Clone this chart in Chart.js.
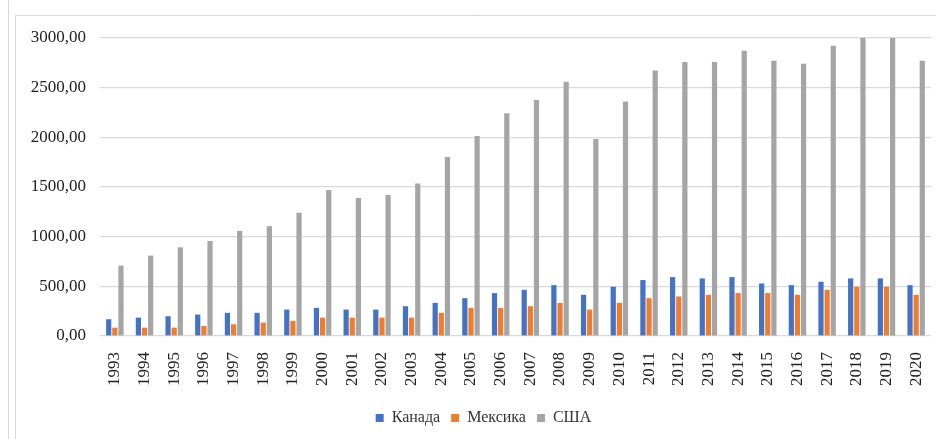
<!DOCTYPE html>
<html>
<head>
<meta charset="utf-8">
<script src="https://cdn.jsdelivr.net/npm/chart.js@4/dist/chart.umd.min.js"></script>
<style>
html,body{margin:0;padding:0;background:#fff;}
#wrap{width:936px;height:439px;position:relative;}
</style>
</head>
<body>
<div id="wrap"><canvas id="c" width="936" height="439"></canvas></div>
<script>
const years = ['1993','1994','1995','1996','1997','1998','1999','2000','2001','2002','2003','2004','2005','2006','2007','2008','2009','2010','2011','2012','2013','2014','2015','2016','2017','2018','2019','2020'];
const canada = [169,185,199,216,233,233,266,283,266,266,300,334,381,432,465,512,415,496,563,593,580,593,529,512,546,580,580,512];
const mexico = [84,84,84,101,118,135,152,185,185,185,185,233,283,283,300,334,266,334,381,398,415,432,432,415,465,496,496,415];
const usa = [708,809,893,957,1059,1106,1241,1470,1389,1420,1534,1801,2013,2242,2377,2559,1983,2360,2674,2758,2758,2872,2771,2741,2923,3000,3000,2771];
const seriesNames = ['Канада','Мексика','США'];
const yTicks = [0,500,1000,1500,2000,2500,3000];

const FONT = "'Liberation Serif','Times New Roman',serif";

const framePlugin = {
  id:'frame',
  afterLayout(chart){
    if (chart.legend) { chart.legend.left += 18; chart.legend.right += 18; }
  },
  beforeDraw(chart){
    const ctx = chart.ctx;
    ctx.save();
    ctx.fillStyle='#fff';
    ctx.fillRect(0,0,chart.width,chart.height);
    ctx.strokeStyle='#d9d9d9';
    ctx.lineWidth=1;
    ctx.beginPath();
    ctx.moveTo(8.5,0); ctx.lineTo(8.5,chart.height);
    ctx.moveTo(15.5,chart.height); ctx.lineTo(15.5,15.5); ctx.lineTo(chart.width,15.5);
    ctx.stroke();
    ctx.restore();
  }
};

new Chart(document.getElementById('c'), {
  type:'bar',
  data:{
    labels:years,
    datasets:[
      {label:seriesNames[0], data:canada, backgroundColor:'#4472C4'},
      {label:seriesNames[1], data:mexico, backgroundColor:'#ED7D31'},
      {label:seriesNames[2], data:usa, backgroundColor:'#A5A5A5'}
    ]
  },
  options:{
    responsive:false,
    animation:false,
    devicePixelRatio:1,
    layout:{padding:{left:0,right:5,top:38,bottom:3}},
    datasets:{bar:{categoryPercentage:0.62,barPercentage:0.85}},
    plugins:{
      legend:{
        position:'bottom',
        labels:{
          font:{family:FONT,size:16},
          color:'#333',
          boxWidth:8,boxHeight:8,
          padding:11
        }
      },
      tooltip:{enabled:false}
    },
    scales:{
      x:{
        grid:{display:false,drawTicks:false},
        border:{display:false},
        ticks:{
          font:{family:FONT,size:17},
          color:'#222',
          minRotation:90,maxRotation:90,
          autoSkip:false,
          padding:16
        },
        afterFit(s){ s.height = 63; s.paddingRight = 0; s.paddingLeft = 0; }
      },
      y:{
        min:0,max:3000,
        afterBuildTicks(s){ s.ticks = yTicks.map(v=>({value:v})); },
        grid:{color:'#d9d9d9',lineWidth:1.2,drawTicks:false},
        border:{display:false},
        ticks:{
          font:{family:FONT,size:17},
          color:'#222',
          padding:14,
          callback:v=>v.toFixed(2).replace('.',',')
        },
        afterFit(s){ s.width = 100; }
      }
    }
  },
  plugins:[framePlugin]
});
</script>
</body>
</html>
